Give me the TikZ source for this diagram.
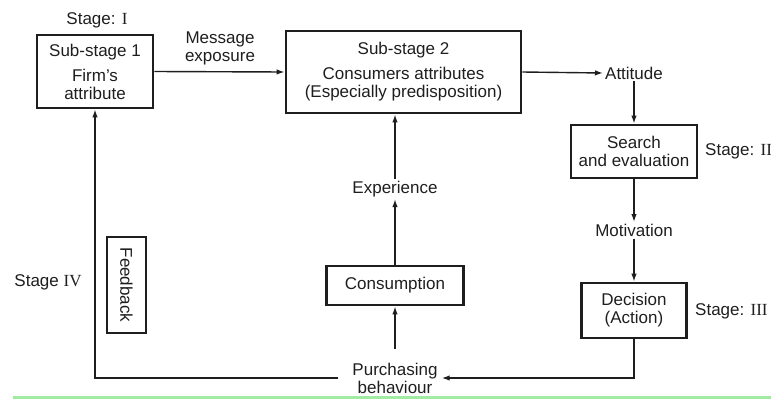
\documentclass[tikz,border=0pt]{standalone}
\usepackage{fontspec}
\setmainfont{Liberation Sans}
\newfontfamily\numfont{Liberation Serif}
\usetikzlibrary{arrows.meta}
\definecolor{ink}{HTML}{1E1E1E}
\definecolor{rulegreen}{HTML}{A2EBA2}
\begin{document}
\begin{tikzpicture}[x=1pt,y=-1pt,
  every node/.style={text=ink,font=\fontsize{17}{18}\selectfont},
  box/.style={draw=ink,line width=2.8pt,align=center,inner sep=0pt},
  lbl/.style={align=center,inner sep=2pt},
  link/.style={draw=ink,line width=1.4pt},
  flow/.style={link,-{Latex[length=8pt,width=5.5pt]}}]
\useasboundingbox (0,0) rectangle (771,399);

% boxes
\node[box,minimum width=116pt,minimum height=73pt] (firm) at (95,71.5)
  {Sub-stage 1\\[7pt]Firm's\\attribute};
\node[box,minimum width=235pt,minimum height=82pt] (cons) at (403.5,72)
  {Sub-stage 2\\[7pt]Consumers attributes\\(Especially predisposition)};
\node[box,minimum width=126pt,minimum height=53pt] (search) at (634,151.5)
  {Search\\and evaluation};
\node[box,minimum width=105pt,minimum height=55pt] (decide) at (634,310.5)
  {Decision\\(Action)};
\node[box,minimum width=137pt,minimum height=39pt] (consume) at (395,285.5)
  {Consumption};
\node[box,rotate=-90,minimum width=96pt,minimum height=39pt] (feedback) at (126.5,285)
  {Feedback};

% free labels
\node[lbl] (attitude) at (634,73) {Attitude};
\node[lbl] (motiv) at (634,230.5) {Motivation};
\node[lbl] (exper) at (395,189) {Experience};
\node[lbl,inner sep=4pt] (purch) at (395,378) {Purchasing\\behaviour};
\node[lbl] (msg) at (220,48) {Message\\exposure};

\node[lbl] (st1) at (97,20) {Stage: {\numfont I}};
\node[lbl,anchor=west,inner sep=0pt] (st2) at (705,151) {Stage: {\numfont II}};
\node[lbl,anchor=west,inner sep=0pt] (st3) at (695,311) {Stage: {\numfont III}};
\node[lbl] (st4) at (48,282) {Stage {\numfont IV}};

% connectors
\draw[flow] (firm.east) -- (cons.west);
\draw[flow] (cons.east) -- (attitude.west);
\draw[flow] (attitude.south) -- (search.north);
\draw[flow] (search.south) -- (motiv.north);
\draw[flow] (motiv.south) -- (decide.north);
\draw[flow] (decide.south) |- (purch.east);
\draw[flow] ([xshift=-10pt]purch.west) -| (firm.south);
\draw[flow,shorten <=10pt] (purch.north) -- (consume.south);
\draw[flow] (consume.north) -- (exper.south);
\draw[flow] (exper.north) -- (exper.north |- cons.south);

% rule along the foot
\draw[rulegreen,line width=3pt] (13,397.5) -- (771,397.5);
\end{tikzpicture}
\end{document}
